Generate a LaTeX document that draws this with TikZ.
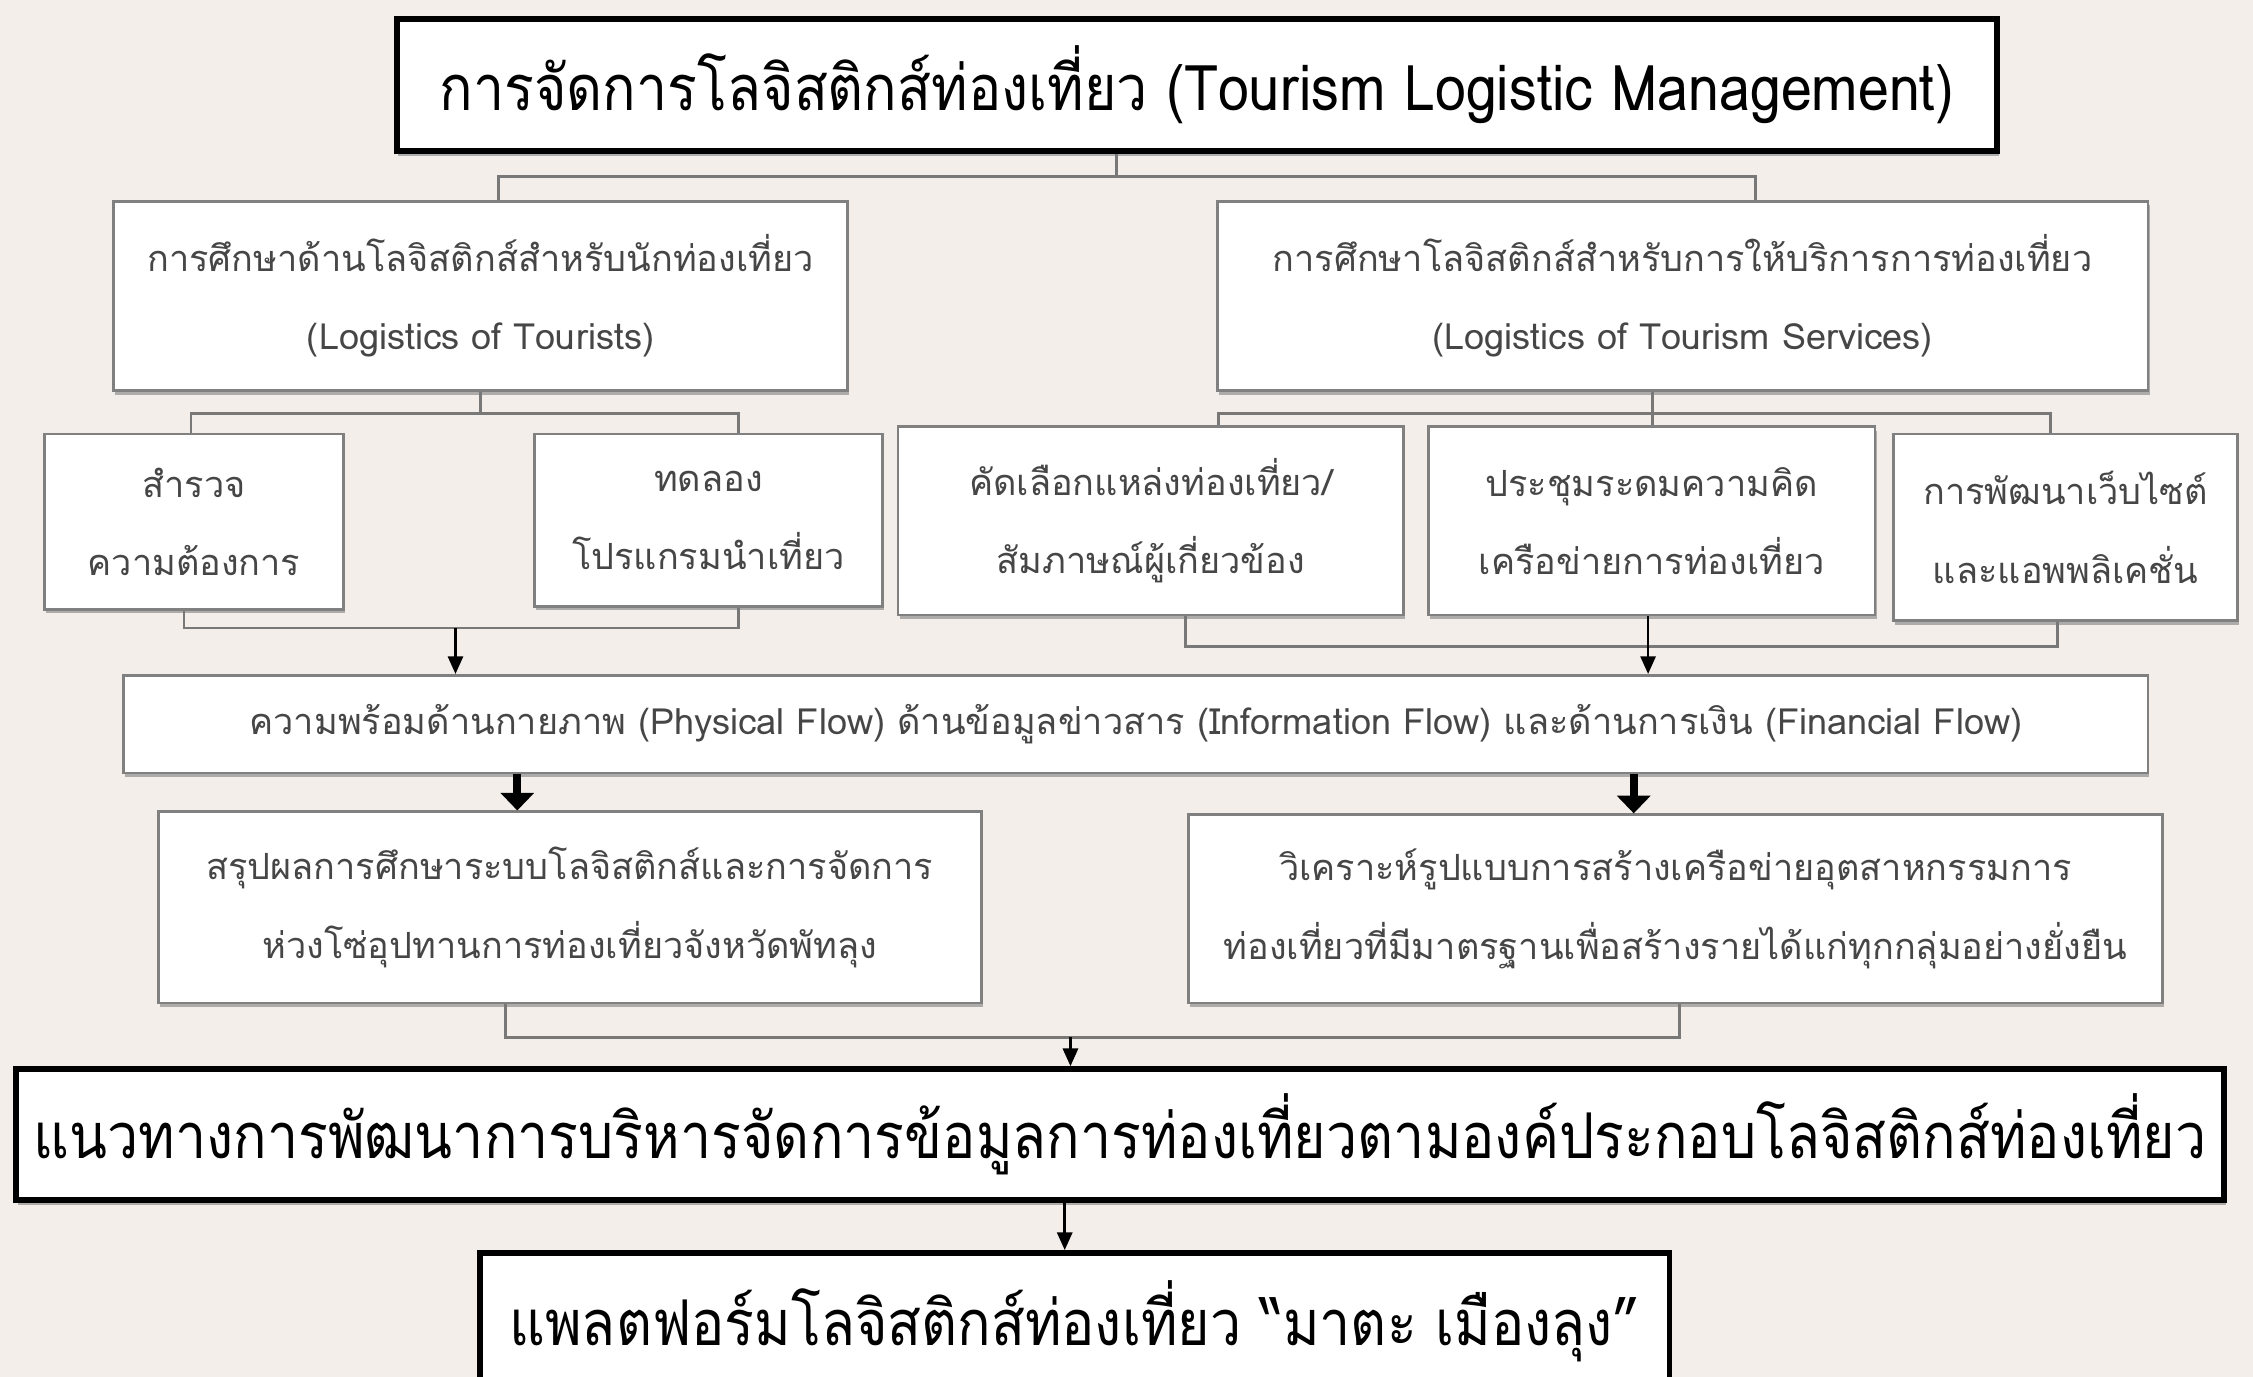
\documentclass[tikz,border=0pt]{standalone}
\usepackage{fontspec}
\setmainfont[Script=Thai]{Loma}
\newfontfamily\bigthai[Script=Thai, FakeStretch=0.88]{Loma}
\usetikzlibrary{arrows.meta,shadows}

\definecolor{bgcol}{RGB}{243,238,234}
\definecolor{boxgray}{RGB}{128,128,128}
\definecolor{txtgray}{RGB}{70,70,70}
\definecolor{linegray}{RGB}{120,120,120}

\tikzset{
    box/.style={draw=boxgray, line width=1.1pt, fill=white, align=center, text=txtgray, inner sep=0pt,
        font=\fontsize{14.3}{31}\selectfont, drop shadow={shadow xshift=0.6pt, shadow yshift=-1.6pt, fill=gray, opacity=0.6}},
    bigbox/.style={draw=black, line width=2.3pt, fill=white, align=center, inner sep=0pt,
        font=\bigthai\fontsize{25}{30}\selectfont, drop shadow={shadow xshift=0.6pt, shadow yshift=-2pt, fill=gray, opacity=0.6}},
    link/.style={draw=linegray, line width=1.1pt},
    arr/.style={draw=black, line width=1pt, -{Triangle[length=7pt, width=6pt]}},
    fatarr/.style={draw=black, line width=3pt, -{Triangle[length=7pt, width=13pt]}}
}

\begin{document}
\begin{tikzpicture}[x=0.02cm, y=-0.02cm]
    % Fundo
    \fill[bgcol] (0,0) rectangle (1568,958);
    \useasboundingbox (0,0) rectangle (1568,958);

    % Título
    \node[bigbox, minimum width=22.28cm, minimum height=1.84cm] (title) at (833,59)
        {การจัดการโลจิสติกส์ท่องเที่ยว (Tourism Logistic Management)};

    % Dois ramos
    \node[box, minimum width=10.22cm, minimum height=2.64cm] (tour) at (334.5,206)
        {การศึกษาด้านโลจิสติกส์สำหรับนักท่องเที่ยว\\(Logistics of Tourists)};
    \node[box, minimum width=12.96cm, minimum height=2.64cm] (serv) at (1171,206)
        {การศึกษาโลจิสติกส์สำหรับการให้บริการการท่องเที่ยว\\(Logistics of Tourism Services)};

    % Atividades
    \node[box, minimum width=4.16cm, minimum height=2.44cm] (survey) at (135,363) {สำรวจ\\ความต้องการ};
    \node[box, minimum width=4.84cm, minimum height=2.40cm] (trial) at (493,362) {ทดลอง\\โปรแกรมนำเที่ยว};
    \node[box, minimum width=7.04cm, minimum height=2.62cm] (select) at (801,362.5) {คัดเลือกแหล่งท่องเที่ยว/\\สัมภาษณ์ผู้เกี่ยวข้อง};
    \node[box, minimum width=6.22cm, minimum height=2.62cm] (meet) at (1149.5,362.5) {ประชุมระดมความคิด\\เครือข่ายการท่องเที่ยว};
    \node[box, minimum width=4.78cm, minimum height=2.60cm] (web) at (1437.5,367) {การพัฒนาเว็บไซต์\\และแอพพลิเคชั่น};

    % Fluxos
    \node[box, minimum width=28.18cm, minimum height=1.36cm] (flow) at (790.5,504)
        {ความพร้อมด้านกายภาพ (Physical Flow) ด้านข้อมูลข่าวสาร (Information Flow) และด้านการเงิน (Financial Flow)};

    % Resultados
    \node[box, minimum width=11.46cm, minimum height=2.66cm] (sum) at (396.5,631.5)
        {สรุปผลการศึกษาระบบโลจิสติกส์และการจัดการ\\ห่วงโซ่อุปทานการท่องเที่ยวจังหวัดพัทลุง};
    \node[box, minimum width=13.56cm, minimum height=2.62cm] (anal) at (1166,632.5)
        {วิเคราะห์รูปแบบการสร้างเครือข่ายอุตสาหกรรมการ\\ท่องเที่ยวที่มีมาตรฐานเพื่อสร้างรายได้แก่ทุกกลุ่มอย่างยั่งยืน};

    % Diretriz e plataforma
    \node[bigbox, minimum width=30.74cm, minimum height=1.82cm] (guide) at (779.5,789.5)
        {แนวทางการพัฒนาการบริหารจัดการข้อมูลการท่องเที่ยวตามองค์ประกอบโลจิสติกส์ท่องเที่ยว};
    \node[bigbox, minimum width=16.56cm, minimum height=1.9cm] (plat) at (748,919.5)
        {แพลตฟอร์มโลจิสติกส์ท่องเที่ยว “มาตะ เมืองลุง”};

    % Pontos das ligações
    \coordinate (tM) at (777,123);
    \coordinate (tL) at (347,123);
    \coordinate (tR) at (1222,123);
    \coordinate (aL) at (133,288);
    \coordinate (aR) at (514,288);
    \coordinate (bL) at (128,437);
    \coordinate (bR) at (514,437);
    \coordinate (bM) at (317,437);
    \coordinate (cM) at (1150,288);
    \coordinate (cL) at (848,288);
    \coordinate (cR) at (1427,288);
    \coordinate (dL) at (825,450);
    \coordinate (dR) at (1432,450);
    \coordinate (dM) at (1147,450);
    \coordinate (eL) at (360,540);
    \coordinate (eR) at (1137,540);
    \coordinate (fL) at (352,722);
    \coordinate (fR) at (1169,722);
    \coordinate (fM) at (745,722);
    \coordinate (gM) at (741,835);

    % Ligações
    \draw[link] (title.south -| tM) -- (tM);
    \draw[link] (tour.north -| tL) -- (tL) -- (tR) -- (serv.north -| tR);
    \draw[link] (tour.south) -- (tour.south |- aL);
    \draw[link] (survey.north -| aL) -- (aL) -- (aR) -- (trial.north -| aR);
    \draw[link] (survey.south -| bL) -- (bL) -- (bR) -- (trial.south -| bR);
    \draw[arr] (bM) -- (flow.north -| bM);
    \draw[link] (serv.south -| cM) -- (cM) -- (meet.north -| cM);
    \draw[link] (select.north -| cL) -- (cL) -- (cR) -- (web.north -| cR);
    \draw[link] (select.south -| dL) -- (dL) -- (dR) -- (web.south -| dR);
    \draw[arr] (meet.south -| dM) -- (flow.north -| dM);
    \draw[fatarr] (flow.south -| eL) -- (sum.north -| eL);
    \draw[fatarr] (flow.south -| eR) -- (anal.north -| eR);
    \draw[link] (sum.south -| fL) -- (fL) -- (fR) -- (anal.south -| fR);
    \draw[arr] (fM) -- (guide.north -| fM);
    \draw[arr] (guide.south -| gM) -- (plat.north -| gM);
\end{tikzpicture}
\end{document}
